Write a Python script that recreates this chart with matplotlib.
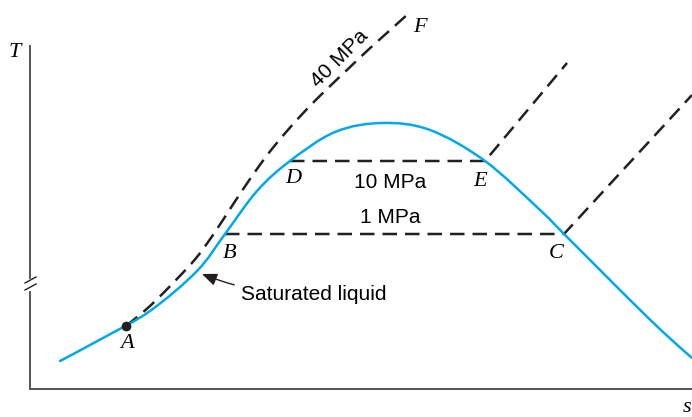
import matplotlib
matplotlib.use("Agg")
import matplotlib.pyplot as plt
from matplotlib.path import Path
from matplotlib.patches import PathPatch

# schematic T-s diagram, units are arbitrary
dome_s = [30, 73, 120, 167, 195, 227, 260, 305, 352, 400, 455, 510, 534, 567, 600, 633, 662]
dome_T = [28, 51, 78, 118, 155, 198, 228, 257, 266, 259, 228, 179, 155, 122, 89, 57, 31]

p40_s = [96, 120, 145, 167, 185, 202, 220, 238, 257, 277, 297, 318, 338, 358, 378]
p40_T = [63, 83, 108, 132, 157, 183, 210, 235, 258, 280, 300, 320, 339, 357, 375]

p10_s = [260, 455, 537]
p10_T = [228, 228, 326]

p1_s = [195, 534, 662]
p1_T = [155, 155, 294]

pt_A = (96, 63)

BLUE = "#00a9e8"
INK = "#231f20"
sans = "Liberation Sans"
serif = "Liberation Serif"


def smooth_path(xs, ys):
    # Catmull-Rom through the read points, handed to matplotlib as cubic Beziers
    pts = list(zip(xs, ys))
    verts = [pts[0]]
    codes = [Path.MOVETO]
    for i in range(len(pts) - 1):
        p0 = pts[i - 1] if i > 0 else pts[i]
        p1, p2 = pts[i], pts[i + 1]
        p3 = pts[i + 2] if i + 2 < len(pts) else p2
        c1 = (p1[0] + (p2[0] - p0[0]) / 6, p1[1] + (p2[1] - p0[1]) / 6)
        c2 = (p2[0] - (p3[0] - p1[0]) / 6, p2[1] - (p3[1] - p1[1]) / 6)
        verts += [c1, c2, p2]
        codes += [Path.CURVE4] * 3
    return Path(verts, codes)


fig = plt.figure(figsize=(6.92, 4.17), dpi=100)
ax = fig.add_axes([30 / 692, 28 / 417, 662 / 692, 389 / 417])
ax.set_xlim(0, 662)
ax.set_ylim(0, 389)
ax.set_xticks([])
ax.set_yticks([])
for side in ["top", "right"]:
    ax.spines[side].set_visible(False)
for side in ["left", "bottom"]:
    ax.spines[side].set_color("#555555")
    ax.spines[side].set_linewidth(1.4)
ax.spines["left"].set_bounds(0, 343)

dash = (0, (5.8, 3.2))
ax.add_patch(PathPatch(smooth_path(dome_s, dome_T), fill=False, ec=BLUE, lw=1.8,
                       capstyle="round", zorder=3))
ax.add_patch(PathPatch(smooth_path(p40_s, p40_T), fill=False, ec=INK, lw=1.8,
                       linestyle=dash, capstyle="butt", clip_on=False, zorder=2))
ax.plot(p10_s, p10_T, color=INK, lw=1.8, linestyle=dash, clip_on=False, zorder=2)
ax.plot(p1_s, p1_T, color=INK, lw=1.8, linestyle=dash, clip_on=False, zorder=2)
ax.plot(*pt_A, "o", color=INK, ms=6, zorder=4)

# axis break marks
ax.plot([0, 0], [100, 108], color="white", lw=3, clip_on=False, zorder=5)
ax.plot([-5, 6], [99, 105], color=INK, lw=1.0, clip_on=False, zorder=6)
ax.plot([-5, 6], [106, 112], color=INK, lw=1.0, clip_on=False, zorder=6)

# pressure labels
ax.text(310, 330, "40 MPa", fontsize=15, family=sans, rotation=45, ha="center", va="center",
        rotation_mode="anchor", zorder=5)
ax.text(360, 207, "10 MPa", fontsize=15, family=sans, ha="center", va="center")
ax.text(360, 172, "1 MPa", fontsize=15, family=sans, ha="center", va="center")

# state points
lbl = dict(fontsize=16, family=serif, style="italic", ha="center", va="center")
ax.text(97, 46, "A", **lbl)
ax.text(200, 136, "B", **lbl)
ax.text(526, 135, "C", **lbl)
ax.text(263, 211, "D", **lbl)
ax.text(450, 208, "E", **lbl)
ax.text(390, 362, "F", **lbl, clip_on=False)
ax.text(-15, 337, "T", **lbl, clip_on=False)
ax.text(657, -19, "s", **lbl, clip_on=False)

ax.annotate("Saturated liquid", xy=(172, 115), xytext=(211, 94), fontsize=15, family=sans,
            ha="left", va="center",
            arrowprops=dict(arrowstyle="-|>,head_length=0.6,head_width=0.25", color=INK,
                            lw=1.0, connectionstyle="arc3,rad=-0.1", shrinkA=3, shrinkB=0))

fig.savefig("out.png", dpi=100)
